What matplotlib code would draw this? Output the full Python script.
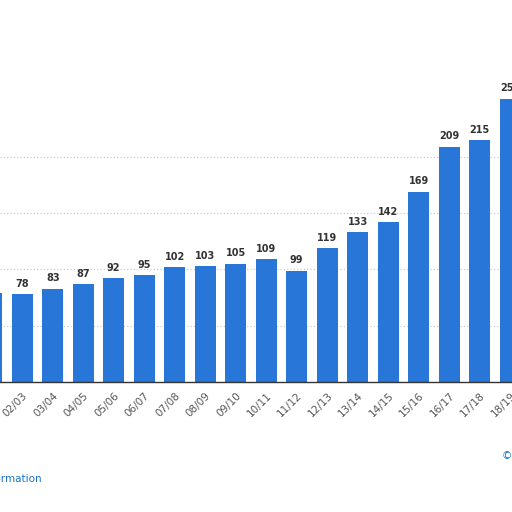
import matplotlib
matplotlib.use("Agg")
import matplotlib.pyplot as plt

seasons = ["01/02", "02/03", "03/04", "04/05", "05/06", "06/07", "07/08", "08/09",
           "09/10", "10/11", "11/12", "12/13", "13/14", "14/15", "15/16", "16/17",
           "17/18", "18/19"]
values = [79, 78, 83, 87, 92, 95, 102, 103, 105, 109, 99, 119, 133, 142, 169, 209, 215, 252]
grid_values = [50, 100, 150, 200]

bar_color = "#2876d8"

fig = plt.figure(figsize=(5.12, 5.12), dpi=100)
ax = fig.add_axes([0, 0.254, 1, 0.746])

xs = list(range(len(seasons)))
ax.bar(xs, values, width=0.69, color=bar_color, zorder=2)

for x, v in zip(xs, values):
    ax.annotate(str(v), (x, v), xytext=(0, 4), textcoords="offset points",
                ha="center", va="bottom", fontsize=7, fontweight="bold",
                color="#333333", clip_on=False)

ax.set_yticks(grid_values)
ax.yaxis.grid(True, linestyle=(0, (1, 2)), color="#c4c4c4", linewidth=0.8, zorder=0)
ax.tick_params(axis="y", length=0, labelleft=False)

ax.set_xticks(xs)
ax.set_xticklabels(seasons, rotation=45, ha="right", rotation_mode="anchor",
                   fontsize=7.5, color="#555555")
ax.tick_params(axis="x", length=0, pad=6)

# set limits after the ticks, set_xticks would widen them again
ax.set_xlim(0.27, 17.06)
ax.set_ylim(0, 339.6)

for s in ["top", "left", "right"]:
    ax.spines[s].set_visible(False)
ax.spines["bottom"].set_color("#333333")
ax.spines["bottom"].set_linewidth(1.0)

fig.text(42 / 512, 1 - 479 / 512, "Additional Information", ha="right", va="center",
         fontsize=7.5, color="#1a73c8")
fig.text(502 / 512, 1 - 456 / 512, "© Statista 2021", ha="left", va="center",
         fontsize=7.5, color="#1a73c8")

fig.savefig("out.png", dpi=100)
